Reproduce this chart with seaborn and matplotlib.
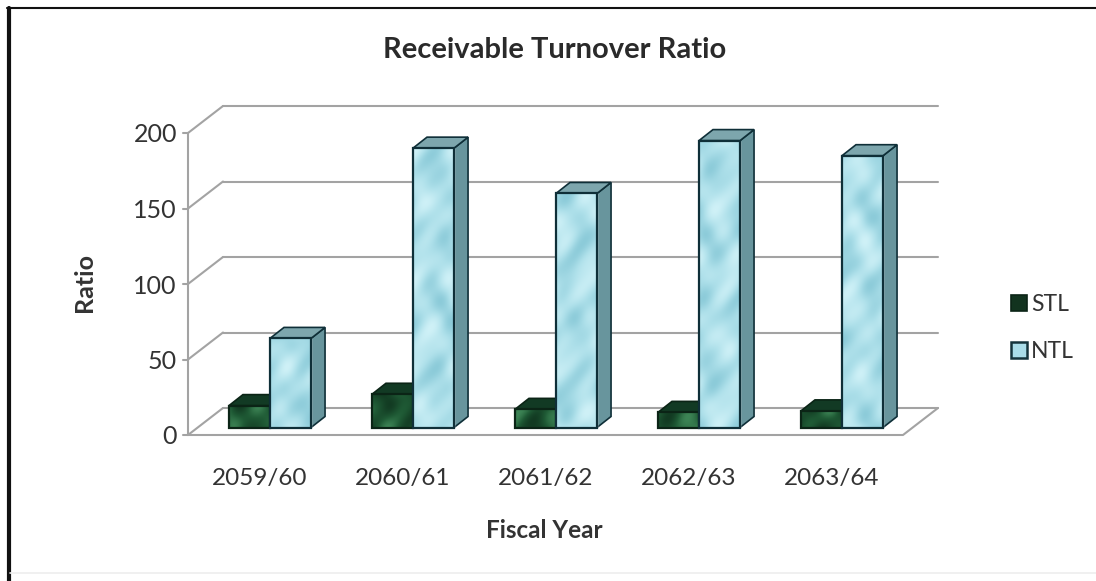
import numpy as np
import pandas as pd
import matplotlib
matplotlib.use("Agg")
import matplotlib.pyplot as plt
import seaborn as sns
from matplotlib.colors import LinearSegmentedColormap
from matplotlib.lines import Line2D
from matplotlib.patches import Polygon, Rectangle

years = ["2059/60", "2060/61", "2061/62", "2062/63", "2063/64"]
stl = [14.5, 22, 12, 10, 11]
ntl = [59, 185, 155, 190, 180]
yticks = [0, 50, 100, 150, 200]
title = "Receivable Turnover Ratio"
xlabel = "Fiscal Year"
ylabel = "Ratio"

W, H = 1096, 581
sns.set_theme(style="white")
plt.rcParams["font.family"] = ["Lato", "DejaVu Sans"]
TXT = "#333333"
GRID = "#a3a3a3"

fig = plt.figure(figsize=(W / 100, H / 100), dpi=100, facecolor="white")
L, R, T, B = 188, 903, 133, 435
ax = fig.add_axes([L / W, 1 - B / H, (R - L) / W, (B - T) / H])
ax.patch.set_alpha(0)

df = pd.DataFrame({
    "year": years * 2,
    "value": stl + ntl,
    "series": ["STL"] * len(years) + ["NTL"] * len(years),
})
sns.barplot(data=df, x="year", y="value", hue="series", ax=ax, width=0.574, gap=0,
            palette={"STL": "#1d5232", "NTL": "#a9dde9"}, saturation=1, dodge=True)
ax.set_xlim(-0.5, 4.5)
ax.set_ylim(0, 200)

px = 5 / (R - L)          # data units per pixel, x
py = 200 / (B - T)        # data units per pixel, y
wall_dx, wall_dy = 35 * px, 27 * py
bar_sx, bar_sy = 10.5 * px, 7.5 * py
dep_dx, dep_dy = 14 * px, 11 * py

# walls and floor
for v in yticks:
    ax.plot([-0.5, -0.5 + wall_dx], [v, v + wall_dy], color=GRID, lw=1.5, clip_on=False, zorder=1)
    ax.plot([-0.5 + wall_dx, 4.5 + wall_dx], [v + wall_dy] * 2, color=GRID, lw=1.5, clip_on=False, zorder=1)
    ax.plot([-0.5 - 5 * px, -0.5], [v, v], color=GRID, lw=1.5, clip_on=False, zorder=1)
ax.plot([-0.5, -0.5], [0, 200], color=GRID, lw=1.5, clip_on=False, zorder=1)
ax.plot([-0.5, 4.5, 4.5 + wall_dx], [0, 0, wall_dy], color=GRID, lw=1.5, clip_on=False, zorder=1)

cm_blue = LinearSegmentedColormap.from_list("b", ["#8ccbd9", "#aee0ea", "#cff1f7"])
cm_green = LinearSegmentedColormap.from_list("g", ["#123a22", "#1f5a35", "#3d8455"])


def texture(w, h, k):
    yy, xx = np.mgrid[0:h, 0:w]
    return (np.sin(xx / 6.5 + k + 1.6 * np.sin(yy / 17 + k))
            + np.cos(yy / 11 + 2 * k + 1.4 * np.sin(xx / 9 - k))
            + 0.5 * np.sin((xx + yy) / 5 + k))


styles = [
    dict(cm=cm_green, side="#0d2c1a", top="#123a24", edge="#0b2416", z=3),
    dict(cm=cm_blue, side="#68959d", top="#7da6ad", edge="#0f2f38", z=5),
]
for s, cont in zip(styles, ax.containers):
    for k, bar in enumerate(cont):
        x0 = bar.get_x() + bar_sx
        wd = bar.get_width()
        val = bar.get_height()
        y0 = bar_sy
        y1 = y0 + val
        bar.set_x(x0)
        bar.set_y(y0)
        bar.set_zorder(s["z"] + 0.1)
        bar.set_clip_on(False)
        ax.add_patch(Polygon([(x0 + wd, y0), (x0 + wd + dep_dx, y0 + dep_dy),
                              (x0 + wd + dep_dx, y1 + dep_dy), (x0 + wd, y1)],
                             fc=s["side"], ec=s["edge"], lw=1.2, clip_on=False, zorder=s["z"]))
        ax.add_patch(Polygon([(x0, y1), (x0 + dep_dx, y1 + dep_dy),
                              (x0 + wd + dep_dx, y1 + dep_dy), (x0 + wd, y1)],
                             fc=s["top"], ec=s["edge"], lw=1.2, clip_on=False, zorder=s["z"]))
        tx = texture(int(wd / px), max(2, int(val / py)), k * 1.7 + s["z"])
        ax.imshow(tx, cmap=s["cm"], extent=[x0, x0 + wd, y0, y1], aspect="auto",
                  interpolation="bilinear", zorder=s["z"] + 0.2, clip_on=False)
        ax.add_patch(Rectangle((x0, y0), wd, val, fc="none", ec=s["edge"], lw=1.6,
                               clip_on=False, zorder=s["z"] + 0.3))
ax.set_xlim(-0.5, 4.5)
ax.set_ylim(0, 200)

# axes dressing
ax.spines[["top", "right", "left", "bottom"]].set_visible(False)
ax.set_yticks(yticks)
ax.tick_params(axis="y", length=0, pad=8, labelsize=18, labelcolor=TXT)
ax.tick_params(axis="x", length=0, pad=24, labelsize=17.5, labelcolor=TXT)
ax.set_xlabel("")
ax.set_ylabel("")
fig.text(544 / W, 1 - 531 / H, xlabel, ha="center", va="center", fontsize=17.5, fontweight="bold", color=TXT)
fig.text(85 / W, 1 - 283 / H, ylabel, ha="center", va="center", rotation=90, fontsize=18, fontweight="bold", color=TXT)
fig.text(555 / W, 1 - 50 / H, title, ha="center", va="center", fontsize=21, fontweight="bold", color="#2a2a2a")

# legend
handles = [Rectangle((0, 0), 1, 1, fc="#12331f", ec="#0b2416", lw=1.2),
           Rectangle((0, 0), 1, 1, fc="#a9dde9", ec="#14343c", lw=1.8)]
ax.legend(handles, ["STL", "NTL"], loc="center left", frameon=False,
          bbox_to_anchor=(990 / W, 1 - 328 / H), bbox_transform=fig.transFigure,
          fontsize=16.5, handlelength=0.7, handleheight=0.7, handletextpad=0.2,
          labelspacing=1.1, labelcolor=TXT)

# image frame
fig.add_artist(Line2D([8.5 / W, 8.5 / W], [0, 1 - 8 / H], color="#111111", lw=3))
fig.add_artist(Line2D([7 / W, 1], [1 - 8 / H, 1 - 8 / H], color="#111111", lw=1.5))
fig.add_artist(Line2D([10 / W, 1], [1 - 573 / H, 1 - 573 / H], color="#eeeeee", lw=1.2))

fig.savefig("out.png", dpi=100, facecolor="white")
